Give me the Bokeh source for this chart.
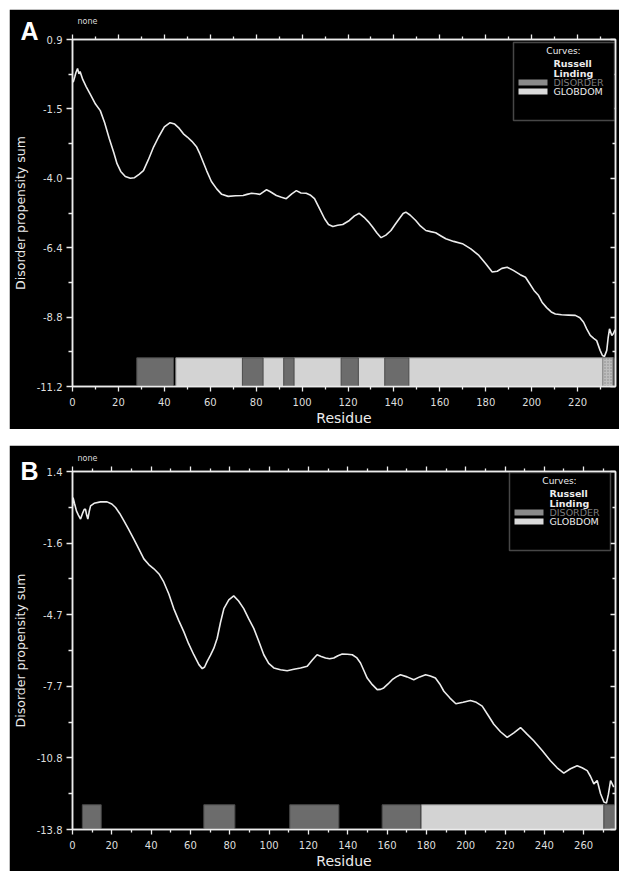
from bokeh.plotting import figure
from bokeh.models import Range1d, LinearAxis, FixedTicker, Label, BoxAnnotation, Title
from bokeh.layouts import column
from bokeh.embed import file_html
from bokeh.resources import INLINE

# ---------------- data: panel A ----------------
res_a = [0.3, 1.0, 1.5, 2.2, 2.8, 3.3, 4.5, 6, 8, 10, 12.1, 14, 16, 18, 19.4, 21, 23, 25.2, 27, 29,
         30.9, 33, 35.3, 37.5, 40, 42.5, 44.5, 46.5, 48.3, 50, 52, 54.1, 55.5, 58.4, 60.5, 62.8, 65,
         67.8, 71, 74.3, 76, 78, 80, 81.6, 83, 84.5, 86, 88.8, 91, 93.1, 95.5, 97.5, 99.5, 101.8,
         103.5, 105.4, 107.6, 109.8, 111.5, 113.4, 115.5, 117.7, 120.6, 122.8, 124.9, 127, 128.8,
         130.7, 132.6, 134.4, 136.5, 138.7, 140.5, 142.3, 144, 145.2, 147, 149.5, 151.5, 153.9, 156,
         158.2, 160.5, 162.6, 166, 169.8, 173.5, 177, 180, 182.8, 185, 187, 189.3, 192, 195, 197.3,
         199, 201, 203, 204.5, 206.5, 208.5, 210.3, 213, 216, 219, 221, 222.6, 224, 225.5, 227,
         228.3, 229.8, 230.8, 231.7, 232.7, 233.3, 233.9, 234.9, 235.6, 236.3]
val_a = [-0.59, -0.40, -0.25, -0.11, -0.30, -0.22, -0.50, -0.75, -1.05, -1.35, -1.58, -2.0, -2.55,
         -3.05, -3.43, -3.7, -3.88, -3.94, -3.92, -3.8, -3.67, -3.3, -2.85, -2.5, -2.15, -2.0, -2.05,
         -2.2, -2.39, -2.5, -2.65, -2.85, -3.09, -3.67, -4.05, -4.31, -4.5, -4.57, -4.55, -4.54, -4.5,
         -4.46, -4.48, -4.5, -4.42, -4.34, -4.4, -4.54, -4.6, -4.65, -4.48, -4.37, -4.45, -4.46,
         -4.52, -4.65, -5.0, -5.35, -5.55, -5.62, -5.58, -5.55, -5.41, -5.25, -5.16, -5.3, -5.45,
         -5.64, -5.85, -6.01, -5.92, -5.76, -5.55, -5.35, -5.17, -5.12, -5.22, -5.41, -5.6, -5.76,
         -5.8, -5.84, -5.95, -6.05, -6.14, -6.22, -6.4, -6.63, -6.92, -7.21, -7.18, -7.08, -7.04,
         -7.15, -7.3, -7.39, -7.6, -7.85, -8.03, -8.26, -8.45, -8.6, -8.67, -8.7, -8.71, -8.72, -8.8,
         -8.96, -9.2, -9.42, -9.52, -9.6, -9.94, -10.12, -10.15, -9.94, -9.5, -9.19, -9.42, -9.35,
         -9.22]
disorder_a_start = [28, 74, 92, 117, 136, 235.5]
disorder_a_end = [44, 83, 96.5, 124.5, 146.5, 236.5]
globdom_a_start = [45]
globdom_a_end = [231]
mixed_a_start = [231]
mixed_a_end = [235.5]
yticks_a = [0.9, -1.52, -3.94, -6.36, -8.78, -11.2]
ylabels_a = ["0.9", "-1.5", "-4.0", "-6.4", "-8.8", "-11.2"]
xticks_a = [0, 20, 40, 60, 80, 100, 120, 140, 160, 180, 200, 220]

# ---------------- data: panel B ----------------
res_b = [0, 0.3, 1, 2, 3, 4.1, 5, 6, 6.6, 7.2, 7.8, 8.5, 9.2, 11, 14.2, 17.6, 20, 21.9, 24, 26.1,
         28.5, 31.2, 33.8, 36.3, 38.8, 41.4, 44, 46.4, 49, 51.5, 54, 56.6, 59, 61.7, 64.3, 66, 67.2,
         68.5, 70.2, 71.9, 73.6, 75.3, 77, 79.5, 82, 84.5, 87.1, 89.6, 92.2, 94.7, 97.3, 99.8, 102.4,
         105.8, 109.2, 112.6, 116, 119.4, 122, 124.4, 126.5, 128.7, 130.8, 132.9, 135, 137.2, 139.8,
         142.3, 144.5, 146.5, 148.2, 149.9, 152.5, 155, 156.7, 158.3, 160.5, 162.6, 164.7, 166.8,
         170.2, 173.6, 176.6, 179.6, 182, 184.6, 186.8, 188.9, 192, 195, 198.7, 202.4, 205.4, 208.4,
         211.4, 214.3, 217.7, 221.1, 224.5, 227.9, 231.2, 234.6, 238.9, 243.1, 246.5, 249.9, 253.3,
         256.7, 259.2, 261.8, 263.5, 265.2, 266.9, 268.6, 270.3, 271.6, 272.6, 273.7, 275.3]
val_b = [-0.06, 0.29, 0.05, -0.27, -0.45, -0.62, -0.4, -0.2, -0.2, -0.45, -0.62, -0.3, -0.06, 0.05,
         0.11, 0.11, 0.02, -0.13, -0.38, -0.69, -1.05, -1.47, -1.9, -2.31, -2.55, -2.73, -2.95,
         -3.29, -3.8, -4.42, -4.92, -5.4, -5.9, -6.38, -6.8, -6.97, -6.9, -6.66, -6.4, -6.1, -5.68,
         -5.0, -4.42, -4.05, -3.88, -4.1, -4.42, -4.85, -5.26, -5.8, -6.38, -6.75, -6.94, -7.02,
         -7.06, -7.0, -6.94, -6.87, -6.6, -6.38, -6.45, -6.52, -6.55, -6.52, -6.42, -6.35, -6.36,
         -6.38, -6.5, -6.73, -7.05, -7.37, -7.65, -7.86, -7.85, -7.79, -7.62, -7.44, -7.32, -7.23,
         -7.32, -7.44, -7.32, -7.23, -7.28, -7.37, -7.62, -7.93, -8.22, -8.46, -8.4, -8.32, -8.4,
         -8.56, -8.95, -9.33, -9.65, -9.89, -9.7, -9.47, -9.75, -10.03, -10.45, -10.88, -11.18,
         -11.41, -11.22, -11.09, -11.18, -11.3, -11.55, -11.86, -11.72, -12.28, -12.63, -12.68,
         -12.3, -11.72, -12.0]
disorder_b_start = [5, 66.8, 110.5, 157.5, 270.3]
disorder_b_end = [14.6, 82.6, 135.5, 177, 276.2]
globdom_b_start = [177.5]
globdom_b_end = [270.3]
mixed_b_start = []
mixed_b_end = []
yticks_b = [1.4, -1.64, -4.68, -7.72, -10.76, -13.8]
ylabels_b = ["1.4", "-1.6", "-4.7", "-7.7", "-10.8", "-13.8"]
xticks_b = [0, 20, 40, 60, 80, 100, 120, 140, 160, 180, 200, 220, 240, 260]

FONT = "DejaVu Sans"
WHITE = "#ececec"
DARK = "#6c6c6c"
LIGHT = "#d3d3d3"
FIG_W = 610


def make_panel(letter, res, vals, x_max, y_min, y_max, yticks, ylabels, xticks,
               dis_s, dis_e, glob_s, glob_e, mix_s, mix_e, track_top,
               height, b_top, b_bottom, b_right, margin_top, letter_standoff, none_standoff,
               legend_right_gap):
    p = figure(width=FIG_W, height=height, x_range=Range1d(0, x_max), y_range=Range1d(y_min, y_max),
               output_backend="svg", toolbar_location=None,
               min_border_left=63, min_border_right=b_right, min_border_top=b_top,
               min_border_bottom=b_bottom, margin=(margin_top, 0, 0, 9),
               background_fill_color="black", border_fill_color="black",
               outline_line_color=WHITE, outline_line_width=1.5,
               x_axis_location=None, y_axis_location=None)
    p.xgrid.grid_line_color = None
    p.ygrid.grid_line_color = None
    frame_h = height - b_top - b_bottom
    frame_w = FIG_W - 63 - b_right

    minor_y = [(yticks[i] + yticks[i + 1]) / 2 for i in range(len(yticks) - 1)]
    minor_x = [t + 10 for t in xticks if t + 10 < x_max]

    def style(ax):
        ax.axis_line_color = WHITE
        ax.axis_line_width = 1.5
        ax.major_tick_line_color = WHITE
        ax.minor_tick_line_color = WHITE
        ax.major_tick_line_width = 1.3
        ax.minor_tick_line_width = 1.3
        ax.major_label_text_color = "#dedede"
        ax.major_label_text_font = FONT
        ax.major_label_text_font_size = "10px"

    left = LinearAxis(ticker=FixedTicker(ticks=yticks, minor_ticks=minor_y),
                      major_label_overrides={t: l for t, l in zip(yticks, ylabels)},
                      axis_label="Disorder propensity sum")
    style(left)
    left.major_tick_out = 6
    left.major_tick_in = 0
    left.minor_tick_out = 4
    left.minor_tick_in = 0
    left.major_label_standoff = 4
    left.axis_label_text_color = WHITE
    left.axis_label_text_font = FONT
    left.axis_label_text_font_size = "12.5px"
    left.axis_label_text_font_style = "normal"
    left.axis_label_standoff = 6
    p.add_layout(left, "left")

    right = LinearAxis(ticker=FixedTicker(ticks=yticks, minor_ticks=minor_y))
    style(right)
    right.major_tick_out = 0
    right.major_tick_in = 5
    right.minor_tick_out = 0
    right.minor_tick_in = 3
    right.major_label_standoff = 0
    right.major_label_text_font_size = "0px"
    right.major_label_text_color = None
    p.add_layout(right, "right")

    bottom = LinearAxis(ticker=FixedTicker(ticks=xticks, minor_ticks=minor_x), axis_label="Residue")
    style(bottom)
    bottom.major_tick_out = 5
    bottom.major_tick_in = 0
    bottom.minor_tick_out = 3
    bottom.minor_tick_in = 0
    bottom.major_label_standoff = 6
    bottom.axis_label_text_color = WHITE
    bottom.axis_label_text_font = FONT
    bottom.axis_label_text_font_size = "14px"
    bottom.axis_label_text_font_style = "normal"
    bottom.axis_label_standoff = 1
    p.add_layout(bottom, "below")

    top = LinearAxis(ticker=FixedTicker(ticks=xticks, minor_ticks=minor_x))
    style(top)
    top.major_tick_out = 5
    top.major_tick_in = 0
    top.minor_tick_out = 3
    top.minor_tick_in = 0
    top.major_label_standoff = 0
    top.major_label_text_font_size = "0px"
    top.major_label_text_color = None
    p.add_layout(top, "above")

    # panel letter and "none" placed in the top border
    p.add_layout(Title(text=letter, align="left", offset=-52, vertical_align="bottom",
                       standoff=letter_standoff, text_color="white", text_font="Liberation Sans",
                       text_font_size="25px", text_font_style="bold"), "above")
    p.add_layout(Title(text="none", align="left", offset=5, vertical_align="top",
                       standoff=none_standoff, text_color="#dddddd", text_font=FONT,
                       text_font_size="8px", text_font_style="normal"), "above")

    # curve
    p.line(res, vals, line_color=WHITE, line_width=1.6)

    # domain track
    nb = lambda n: [y_min] * n
    nt = lambda n: [track_top] * n
    p.quad(left=glob_s, right=glob_e, bottom=nb(len(glob_s)), top=nt(len(glob_s)),
           fill_color=LIGHT, line_color="#8c8c8c", line_width=1)
    if mix_s:
        p.quad(left=mix_s, right=mix_e, bottom=nb(len(mix_s)), top=nt(len(mix_s)),
               fill_color="#bdbdbd", line_color="#8c8c8c", line_width=1,
               hatch_pattern="dot", hatch_color="#8a8a8a", hatch_scale=3)
    p.quad(left=dis_s, right=dis_e, bottom=nb(len(dis_s)), top=nt(len(dis_s)),
           fill_color=DARK, line_color="#4a4a4a", line_width=1)

    # legend (manual)
    bw, bh = 101, 78
    bl = frame_w - legend_right_gap - bw
    btop = frame_h - 3
    p.add_layout(BoxAnnotation(left=bl, right=bl + bw, top=btop, bottom=btop - bh,
                               left_units="screen", right_units="screen",
                               top_units="screen", bottom_units="screen",
                               fill_color="black", fill_alpha=1, line_color=WHITE, line_width=1.5))
    p.add_layout(Label(x=bl + 50, y=btop - 8, x_units="screen", y_units="screen", text="Curves:",
                       text_color=WHITE, text_font=FONT, text_font_size="9px",
                       text_align="center", text_baseline="middle"))
    for txt, dy in (("Russell", 21), ("Linding", 31)):
        p.add_layout(Label(x=bl + 40, y=btop - dy, x_units="screen", y_units="screen", text=txt,
                           text_color=WHITE, text_font=FONT, text_font_size="9.5px",
                           text_font_style="bold", text_baseline="middle"))
    for txt, col, tcol, y0, y1 in (("DISORDER", "#8a8a8a", "#7c7c7c", 37, 43),
                                   ("GLOBDOM", "#dadada", WHITE, 46, 52)):
        p.add_layout(BoxAnnotation(left=bl + 5, right=bl + 34, top=btop - y0, bottom=btop - y1,
                                   left_units="screen", right_units="screen",
                                   top_units="screen", bottom_units="screen",
                                   fill_color=col, fill_alpha=1, line_color=None))
        p.add_layout(Label(x=bl + 40, y=btop - (y0 + y1) / 2, x_units="screen", y_units="screen",
                           text=txt, text_color=tcol, text_font=FONT, text_font_size="9.5px",
                           text_baseline="middle"))
    return p


pa = make_panel("A", res_a, val_a, 236.5, -11.2, 0.9, yticks_a, ylabels_a, xticks_a,
                disorder_a_start, disorder_a_end, globdom_a_start, globdom_a_end,
                mixed_a_start, mixed_a_end, -10.2,
                height=420, b_top=30, b_bottom=43, b_right=2, margin_top=9,
                letter_standoff=-21, none_standoff=-5, legend_right_gap=3)
pb = make_panel("B", res_b, val_b, 276.2, -13.8, 1.4, yticks_b, ylabels_b, xticks_b,
                disorder_b_start, disorder_b_end, globdom_b_start, globdom_b_end,
                mixed_b_start, mixed_b_end, -12.75,
                height=426, b_top=26, b_bottom=40, b_right=4, margin_top=16,
                letter_standoff=-36, none_standoff=3, legend_right_gap=5)

layout = column(pa, pb, spacing=0)
open("out.html", "w").write(file_html(layout, INLINE))
